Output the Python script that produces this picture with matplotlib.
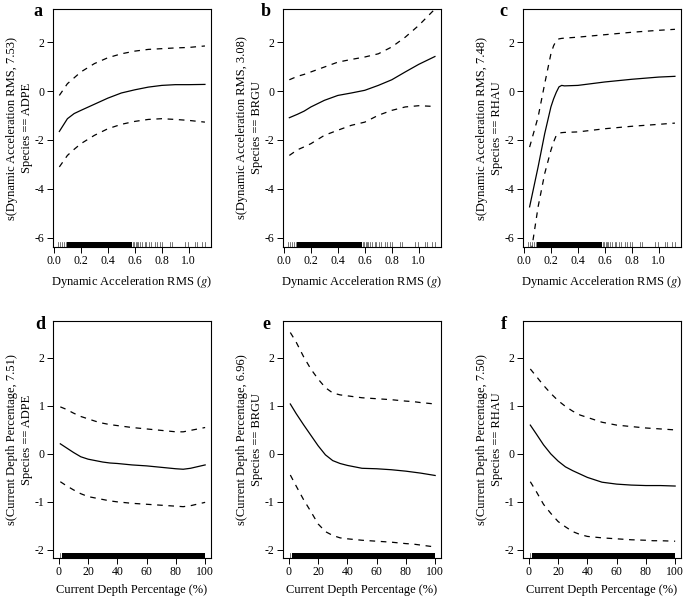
import matplotlib
matplotlib.use('Agg')
import matplotlib.pyplot as plt
from matplotlib.transforms import blended_transform_factory

plt.rcParams['font.family'] = ['Liberation Serif', 'DejaVu Serif']
plt.rcParams['mathtext.fontset'] = 'stix'
plt.rcParams['axes.unicode_minus'] = False

# ---------------- data ----------------
accel_x = [0.04, 0.10, 0.15, 0.20, 0.30, 0.40, 0.50, 0.60, 0.70, 0.80, 0.90, 1.00, 1.12]
fit_a = [-1.65, -1.13, -0.92, -0.79, -0.54, -0.29, -0.08, 0.05, 0.16, 0.23, 0.26, 0.26, 0.27]
up_a = [-0.18, 0.30, 0.54, 0.78, 1.12, 1.36, 1.52, 1.63, 1.70, 1.73, 1.76, 1.78, 1.84]
lo_a = [-3.10, -2.63, -2.38, -2.15, -1.81, -1.54, -1.36, -1.24, -1.16, -1.13, -1.16, -1.20, -1.27]

fit_b = [-1.09, -0.95, -0.82, -0.65, -0.38, -0.18, -0.08, 0.03, 0.23, 0.46, 0.78, 1.09, 1.41]
up_b = [0.46, 0.60, 0.68, 0.78, 0.98, 1.18, 1.29, 1.39, 1.52, 1.80, 2.20, 2.68, 3.35]
lo_b = [-2.63, -2.40, -2.28, -2.15, -1.81, -1.60, -1.40, -1.27, -0.99, -0.79, -0.65, -0.60, -0.63]

accel_x_c = [0.042, 0.105, 0.154, 0.20, 0.22, 0.24, 0.26, 0.28, 0.30, 0.40, 0.60, 0.80, 1.00, 1.12]
fit_c = [-4.73, -3.10, -1.74, -0.65, -0.32, -0.05, 0.17, 0.23, 0.21, 0.23, 0.37, 0.48, 0.57, 0.60]
up_c = [-2.29, -1.06, 0.30, 1.52, 1.85, 2.06, 2.13, 2.15, 2.16, 2.20, 2.30, 2.40, 2.48, 2.52]
lo_c = [-7.00, -4.73, -3.37, -2.42, -2.08, -1.81, -1.72, -1.70, -1.69, -1.67, -1.54, -1.44, -1.36, -1.31]

depth_x = [1, 5, 10, 15, 20, 25, 30, 35, 40, 50, 60, 70, 80, 85, 90, 100]
fit_d = [0.21, 0.13, 0.03, -0.06, -0.11, -0.14, -0.17, -0.19, -0.20, -0.23, -0.25, -0.28, -0.31, -0.32, -0.30, -0.23]
up_d = [0.98, 0.93, 0.85, 0.78, 0.73, 0.68, 0.64, 0.61, 0.59, 0.55, 0.52, 0.49, 0.46, 0.46, 0.49, 0.55]
lo_d = [-0.58, -0.66, -0.75, -0.83, -0.89, -0.92, -0.95, -0.98, -1.00, -1.03, -1.05, -1.07, -1.09, -1.10, -1.08, -1.01]

fit_e = [1.04, 0.84, 0.61, 0.39, 0.17, -0.02, -0.14, -0.20, -0.24, -0.30, -0.31, -0.33, -0.36, -0.38, -0.40, -0.45]
up_e = [2.53, 2.33, 2.03, 1.77, 1.56, 1.38, 1.27, 1.23, 1.21, 1.17, 1.15, 1.13, 1.10, 1.09, 1.07, 1.04]
lo_e = [-0.44, -0.67, -0.95, -1.20, -1.46, -1.62, -1.70, -1.75, -1.77, -1.80, -1.82, -1.84, -1.87, -1.88, -1.90, -1.94]

fit_f = [0.60, 0.42, 0.19, 0.00, -0.15, -0.27, -0.35, -0.42, -0.49, -0.59, -0.63, -0.65, -0.66, -0.66, -0.66, -0.67]
up_f = [1.77, 1.62, 1.43, 1.26, 1.11, 0.99, 0.89, 0.81, 0.76, 0.66, 0.60, 0.57, 0.54, 0.53, 0.52, 0.50]
lo_f = [-0.58, -0.78, -1.05, -1.24, -1.41, -1.52, -1.62, -1.68, -1.72, -1.75, -1.77, -1.79, -1.80, -1.81, -1.81, -1.82]

# rug: individual observations plus the solid (overplotted) ranges
accel_rug_ticks = [0.032, 0.042, 0.057, 0.074, 0.086, 0.585, 0.595, 0.605, 0.615, 0.625, 0.64,
                   0.654, 0.672, 0.686, 0.704, 0.723, 0.753, 0.765, 0.790, 0.802, 0.864, 0.877,
                   0.975, 0.995, 1.049, 1.062, 1.099, 1.118]
accel_rug_dense = (0.10, 0.58)
depth_rug_ticks = [0.5]
depth_rug_dense = (2.0, 100.0)

labels_accel = ["s(Dynamic Acceleration RMS, 7.53)\nSpecies == ADPE",
                "s(Dynamic Acceleration RMS, 3.08)\nSpecies == BRGU",
                "s(Dynamic Acceleration RMS, 7.48)\nSpecies == RHAU"]
labels_depth = ["s(Current Depth Percentage, 7.51)\nSpecies == ADPE",
                "s(Current Depth Percentage, 6.96)\nSpecies == BRGU",
                "s(Current Depth Percentage, 7.50)\nSpecies == RHAU"]
xlabel_accel = "Dynamic Acceleration RMS ($\\mathit{g}$)"
xlabel_depth = "Current Depth Percentage (%)"
panel_letters = ["a", "b", "c", "d", "e", "f"]

accel_ticks = [0.0, 0.2, 0.4, 0.6, 0.8, 1.0]
accel_ytick = [-6, -4, -2, 0, 2]
depth_ticks = [0, 20, 40, 60, 80, 100]
depth_ytick = [-2, -1, 0, 1, 2]

# ---------------- layout ----------------
W, H = 685, 597
fig = plt.figure(figsize=(W / 100, H / 100), dpi=100)

col_left = [53, 283, 523]
col_w = 158
row_top = [9, 321]
row_h = [238, 237]
letter_pos = [(38, 12), (266, 12), (503, 12), (40, 325), (266, 325), (504, 325)]

FS = 8.5
LW = 0.9
DASH = (0, (4.5, 4.5))


def make_ax(col, row):
    l = col_left[col]
    t = row_top[row]
    h = row_h[row]
    return fig.add_axes([l / W, 1 - (t + h) / H, col_w / W, h / H])


def style(ax):
    for s in ax.spines.values():
        s.set_linewidth(0.8)
    ax.tick_params(direction='out', length=4.5, width=0.7, labelsize=FS, pad=1.5)


def rug(ax, ticks, dense, frac):
    tr = blended_transform_factory(ax.transData, ax.transAxes)
    for v in ticks:
        ax.plot([v, v], [0, frac], color='0.25', lw=0.5, transform=tr, clip_on=False)
    ax.fill_between(list(dense), [0, 0], [frac, frac], color='black', lw=0, transform=tr)


top_data = [(accel_x, fit_a, up_a, lo_a), (accel_x, fit_b, up_b, lo_b), (accel_x_c, fit_c, up_c, lo_c)]
bot_data = [(depth_x, fit_d, up_d, lo_d), (depth_x, fit_e, up_e, lo_e), (depth_x, fit_f, up_f, lo_f)]

for i in range(3):
    ax = make_ax(i, 0)
    x, f, u, lo = top_data[i]
    ax.plot(x, f, color='black', lw=LW)
    ax.plot(x, u, color='black', lw=LW, linestyle=DASH)
    ax.plot(x, lo, color='black', lw=LW, linestyle=DASH)
    ax.set_xlim(-0.007, 1.165)
    ax.set_ylim(-6.37, 3.35)
    ax.set_xticks(accel_ticks)
    ax.set_xticklabels([f"{v:.1f}" for v in accel_ticks])
    ax.set_yticks(accel_ytick)
    rug(ax, accel_rug_ticks, accel_rug_dense, 0.022)
    style(ax)
    ax.set_xlabel(xlabel_accel, fontsize=FS + 0.5, labelpad=5)
    l = col_left[i]
    fig.text((l - 33.5) / W, 1 - (row_top[0] + row_h[0] / 2) / H, labels_accel[i],
             rotation=90, ha='center', va='center', fontsize=FS + 0.5, linespacing=1.25)

for i in range(3):
    ax = make_ax(i, 1)
    x, f, u, lo = bot_data[i]
    ax.plot(x, f, color='black', lw=LW)
    ax.plot(x, u, color='black', lw=LW, linestyle=DASH)
    ax.plot(x, lo, color='black', lw=LW, linestyle=DASH)
    ax.set_xlim(-4, 104)
    ax.set_ylim(-2.17, 2.77)
    ax.set_xticks(depth_ticks)
    ax.set_yticks(depth_ytick)
    rug(ax, depth_rug_ticks, depth_rug_dense, 0.022)
    style(ax)
    ax.set_xlabel(xlabel_depth, fontsize=FS + 0.5, labelpad=4)
    l = col_left[i]
    fig.text((l - 33.5) / W, 1 - (row_top[1] + row_h[1] / 2) / H, labels_depth[i],
             rotation=90, ha='center', va='center', fontsize=FS + 0.5, linespacing=1.25)

for (px, py), letter in zip(letter_pos, panel_letters):
    fig.text(px / W, 1 - py / H, letter, ha='center', va='center', fontsize=13, fontweight='bold')

fig.savefig('out.png', dpi=100)
